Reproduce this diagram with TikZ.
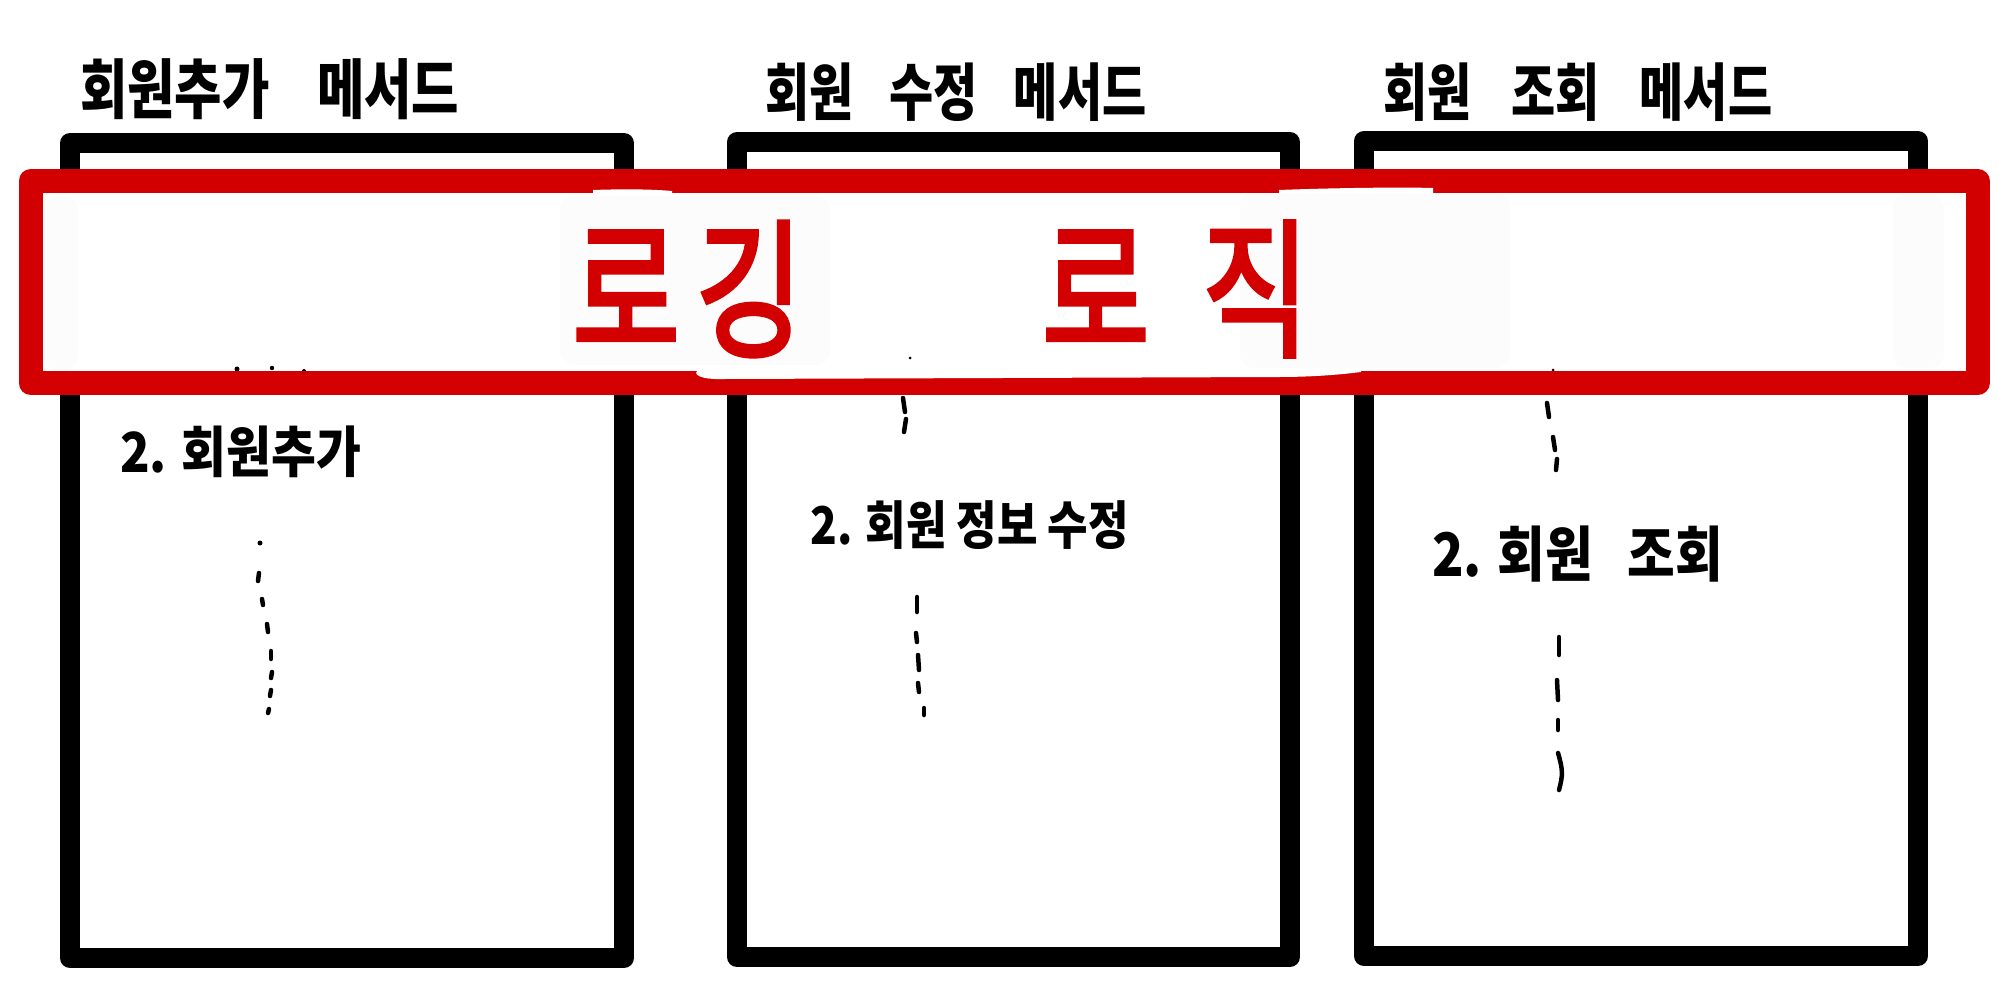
\documentclass[tikz,border=0pt]{standalone}
\usepackage{fontspec}
\newfontfamily\kr{Noto Sans CJK KR}
\newfontfamily\krthick[FakeBold=3]{Noto Sans CJK KR}
\definecolor{bandred}{RGB}{210,0,0}
\definecolor{offwhite}{RGB}{252,252,252}
\begin{document}
\begin{tikzpicture}[x=1pt,y=-1pt,
  frame/.style={line width=20pt, line join=round},
  ttl/.style={anchor=base west, inner sep=0pt},
  item/.style={anchor=base west, inner sep=0pt},
  tick/.style={line width=4.5pt, line cap=round},
  blob/.style={fill=offwhite, draw=none, rounded corners=14pt},
  ]
\useasboundingbox (0,0) rectangle (2006,1000);
\fill[white] (0,0) rectangle (2006,1000);

% method frames
\draw[frame] (70,143) rectangle (624,958);
\draw[frame] (737,142) rectangle (1290,957);
\draw[frame] (1364,141) rectangle (1918,956);

% titles
\node[ttl] (t1) at (80,114) {\kr\bfseries\fontsize{50}{56}\selectfont\scalebox{1.03}[1.3]{회원추가\hspace{46pt}메서드}};
\node[ttl] (t2) at (765,116) {\kr\bfseries\fontsize{48}{54}\selectfont\scalebox{1}[1.3]{회원\hspace{36pt}수정\hspace{36pt}메서드}};
\node[ttl] (t3) at (1383,116) {\kr\bfseries\fontsize{48}{54}\selectfont\scalebox{1}[1.3]{회원\hspace{40pt}조회\hspace{40pt}메서드}};

% inner steps
\node[item] (s1) at (120,472) {\kr\bfseries\fontsize{46}{50}\selectfont\scalebox{1.06}[1.2]{2. 회원추가}};
\node[item] (s2) at (810,544) {\kr\bfseries\fontsize{40}{44}\selectfont\scalebox{1.1}[1.3]{2. 회원 정보 수정}};
\node[item] (s3) at (1432,576) {\kr\bfseries\fontsize{48}{52}\selectfont\scalebox{1.08}[1.25]{2. 회원\hspace{32pt}조회}};

% hand-drawn dotted continuation marks
\fill (260,543) circle (2.5);
\draw[tick] (259,573) -- (258,581);
\draw[tick] (262,599) -- (263,605);
\draw[tick] (267,624) -- (268,632);
\draw[tick] (271,651) -- (271,659);
\draw[tick] (272,672) -- (271,678);
\draw[tick] (271,690) -- (270,696);
\draw[tick] (269,709) -- (268,713);

\draw[tick] (903,398) -- (905,412);
\draw[tick] (906,419) -- (904,432);
\draw[tick] (917,597) -- (917,612);
\draw[tick] (916,633) -- (917,642);
\draw[tick] (918,655) -- (919,670);
\draw[tick] (918,683) -- (919,692);
\draw[tick] (924,708) -- (924,715);

\draw[tick] (1547,403) -- (1549,417);
\draw[tick] (1553,437) -- (1555,450);
\draw[tick] (1557,459) -- (1556,470);
\draw[tick] (1559,637) -- (1559,655);
\draw[tick] (1557,680) -- (1558,700);
\draw[tick] (1558,720) -- (1558,730);
\draw[tick] (1558,753) .. controls (1563,770) and (1563,775) .. (1559,790);

% band interior (white-out)
\fill[white] (42,193) rectangle (1966,371);
\fill[blob] (44,196) rectangle (78,370);
\fill[blob] (560,196) rectangle (830,365);
\fill[blob] (1240,192) rectangle (1510,368);
\fill[blob] (1893,194) rectangle (1944,368);
\fill (237,369) circle (2.5);
\fill (272,368) circle (2.2);
\fill (304,371) circle (2);
\fill (910,358) circle (1.5);
\fill (1553,370) circle (1.5);

% red band
\draw[bandred, line width=24pt, line join=round] (30.5,181) rectangle (1977.5,383);
\fill[white] (700,369) -- (1361,369) -- (1361,372) .. controls (1330,376) and (1300,377) .. (1280,377)
  -- (725,379) .. controls (700,380) and (690,374) .. (700,369) -- cycle;
\fill[white] (593,194) -- (593,190) .. controls (620,189) and (650,189) .. (672,191) -- (672,194) -- cycle;
\fill[white] (1279,194) -- (1279,190) .. controls (1330,188) and (1400,187) .. (1433,188) -- (1433,194) -- cycle;

% red title
\node[anchor=base west, inner sep=0pt, text=bandred] (logic) at (572,345)
  {\krthick\fontsize{130}{140}\selectfont\scalebox{0.9}[1.15]{로\hspace{18pt}깅\hspace{265pt}로\hspace{58pt}직}};
\end{tikzpicture}
\end{document}
